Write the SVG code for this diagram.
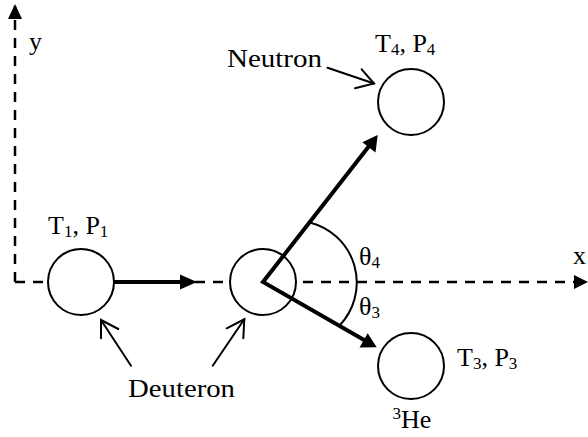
<svg xmlns="http://www.w3.org/2000/svg" width="588" height="437" viewBox="0 0 588 437" font-family="'Liberation Serif', 'DejaVu Serif', serif" font-size="26">
<style>
  .axis { fill: none; stroke: #000; stroke-width: 2.5; stroke-dasharray: 10 8; }
  .particle { fill: #fff; stroke: #000; stroke-width: 2; }
  .thick { fill: none; stroke: #000; stroke-width: 4; stroke-linejoin: miter; }
  .thin { fill: none; stroke: #000; stroke-width: 2; stroke-linecap: round; stroke-linejoin: miter; }
  .arc { fill: none; stroke: #000; stroke-width: 2; }
  .lbl { font-family: 'Liberation Serif', 'DejaVu Serif', serif; font-size: 26px; fill: #000; }
  .sub { font-size: 17px; }
</style>

<g id="axes">
  <path class="axis" d="M15,282 L15,6"/>
  <path d="M15,4 L22,19 L8,19 z" fill="#000"/>
  <path class="axis" d="M15,282 L576,282"/>
  <path d="M588,282 L574,275 L574,289 z" fill="#000"/>
  <text class="lbl" x="29" y="50">y</text>
  <text class="lbl" x="573" y="264">x</text>
</g>

<g id="deuteron1">
  <circle class="particle" cx="81" cy="282" r="33"/>
  <text class="lbl" x="48" y="233.5">T<tspan class="sub" dy="3">1</tspan><tspan dy="-3">, P</tspan><tspan class="sub" dy="3">1</tspan></text>
</g>

<g id="deuteron2">
  <circle class="particle" cx="263" cy="282" r="33"/>
</g>

<g id="neutron">
  <circle class="particle" cx="411" cy="102" r="33"/>
  <text class="lbl" x="375" y="51.5">T<tspan class="sub" dy="3">4</tspan><tspan dy="-3">, P</tspan><tspan class="sub" dy="3">4</tspan></text>
</g>

<g id="helium3">
  <circle class="particle" cx="411" cy="366" r="33"/>
  <text class="lbl" x="457" y="366">T<tspan class="sub" dy="3">3</tspan><tspan dy="-3">, P</tspan><tspan class="sub" dy="3">3</tspan></text>
  <text class="lbl" x="392.5" y="428"><tspan class="sub" dy="-9">3</tspan><tspan dy="9">He</tspan></text>
</g>

<g id="labels">
  <text class="lbl" x="227" y="66.5" textLength="95" lengthAdjust="spacingAndGlyphs">Neutron</text>
  <text class="lbl" x="128" y="396.5" textLength="107" lengthAdjust="spacingAndGlyphs">Deuteron</text>
  <text class="lbl" x="359" y="265">θ<tspan class="sub" dy="3">4</tspan></text>
  <text class="lbl" x="359" y="315">θ<tspan class="sub" dy="3">3</tspan></text>
</g>

<g id="connectors">
  <line class="thick" x1="114" y1="282" x2="189" y2="282"/>
  <path d="M197,282 L180,274.5 L180,289.5 z" fill="#000"/>
  <path class="thick" d="M372.8,141.3 L263,282 L369.8,343.3"/>
  <path d="M377.7,135 L375.5,152.5 L362.4,142.3 z" fill="#000"/>
  <path d="M376.7,347.3 L359.5,347.6 L367.7,333.3 z" fill="#000"/>
  <path class="arc" d="M310.7,222.7 A62,62 0 0 1 340,325"/>
  <line class="thin" x1="327.5" y1="67.7" x2="374" y2="83.5"/>
  <polyline class="thin" points="361.7,69.3 374,83.5 355,88.3"/>
  <line class="thin" x1="131" y1="365.7" x2="101" y2="320"/>
  <polyline class="thin" points="101,338.3 101,320 118.3,329"/>
  <line class="thin" x1="212.7" y1="365.7" x2="244.3" y2="319.3"/>
  <polyline class="thin" points="226.7,328.3 244.3,319.3 243.3,338.3"/>
</g>
</svg>
